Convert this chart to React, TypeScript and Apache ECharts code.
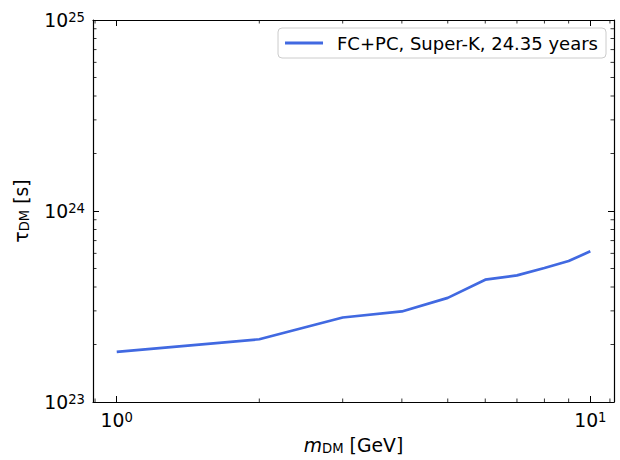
import React, { useEffect, useRef } from "react";
import * as echarts from "echarts";

const masses = [1, 2, 3, 4, 5, 6, 7, 8, 9, 10];
const tauDM = [1.83e23, 2.13e23, 2.77e23, 2.98e23, 3.51e23, 4.37e23, 4.6e23, 5.03e23, 5.47e23, 6.15e23];
const seriesName = "FC+PC, Super-K, 24.35 years";
const X_MIN = 0.891;
const X_MAX = 11.22;
const Y_MIN = 1e23;
const Y_MAX = 1e25;
const xMinorTicks = [0.9, 2, 3, 4, 5, 6, 7, 8, 9, 11];
const yMinorTicks = [2e23, 3e23, 4e23, 5e23, 6e23, 7e23, 8e23, 9e23, 2e24, 3e24, 4e24, 5e24, 6e24, 7e24, 8e24, 9e24];

const FONT = "DejaVu Sans";
const FS = 18.8;
const LINE_COLOR = "#4169e1";

function powLabel(v: number) {
  const l = Math.log10(v);
  const e = Math.round(l);
  if (Math.abs(l - e) > 1e-6) return "";
  return `{b|10}{s|${e}}`;
}

const labelRich = {
  b: { fontFamily: FONT, fontSize: FS, color: "#000" },
  s: { fontFamily: FONT, fontSize: 13.2, color: "#000", verticalAlign: "top", lineHeight: 13 },
};

export default function App() {
  const ref = useRef<HTMLDivElement>(null);
  useEffect(() => {
    const chart = echarts.init(ref.current!, null, { renderer: "svg" });
    const tickLine = { lineStyle: { color: "#000", width: 1 } };
    const axisLine = { show: true, lineStyle: { color: "#000", width: 1.2 } };
    const minorTickLen = 3.5;
    chart.setOption({
      animation: false,
      backgroundColor: "#fff",
      grid: { left: 93, right: 6, top: 20, bottom: 56, containLabel: false },
      legend: {
        data: [{ name: seriesName, icon: "rect" }],
        right: 14,
        top: 28,
        orient: "vertical",
        itemWidth: 38,
        itemHeight: 2.8,
        padding: [6, 8, 6, 7],
        borderColor: "#cccccc",
        borderWidth: 1,
        borderRadius: 4,
        backgroundColor: "#fff",
        itemStyle: { color: LINE_COLOR, borderWidth: 0 },
        textStyle: { fontFamily: FONT, fontSize: 18, color: "#000", padding: [0, 0, 0, 9], lineHeight: 18 },
      },
      xAxis: [
        {
          type: "log",
          logBase: 10,
          min: X_MIN,
          max: X_MAX,
          position: "bottom",
          axisLine,
          axisTick: { show: true, inside: true, length: 6, ...tickLine },
          axisLabel: { show: true, margin: 9, formatter: powLabel, rich: labelRich, showMinLabel: false, showMaxLabel: false },
          splitLine: { show: false },
          name: "{i|m}{sub|DM}{n| [GeV]}",
          nameLocation: "middle",
          nameGap: 34,
          nameTextStyle: {
            rich: {
              i: { fontFamily: FONT, fontSize: FS, fontStyle: "italic", color: "#000" },
              sub: { fontFamily: FONT, fontSize: 13.2, color: "#000", verticalAlign: "bottom" },
              n: { fontFamily: FONT, fontSize: FS, color: "#000" },
            },
          },
        },
        {
          type: "log",
          logBase: 10,
          min: X_MIN,
          max: X_MAX,
          position: "top",
          axisLine,
          axisTick: { show: true, inside: true, length: 6, ...tickLine },
          axisLabel: { show: false },
          splitLine: { show: false },
        },
      ],
      yAxis: [
        {
          type: "log",
          logBase: 10,
          min: Y_MIN,
          max: Y_MAX,
          position: "left",
          axisLine,
          axisTick: { show: true, inside: true, length: 6, ...tickLine },
          axisLabel: { show: true, margin: 8, formatter: powLabel, rich: labelRich },
          splitLine: { show: false },
          name: "{g|τ}{sub|DM}{n| [s]}",
          nameLocation: "middle",
          nameRotate: 90,
          nameGap: 62,
          nameTextStyle: {
            rich: {
              g: { fontFamily: FONT, fontSize: FS, color: "#000" },
              sub: { fontFamily: FONT, fontSize: 13.2, color: "#000", verticalAlign: "bottom" },
              n: { fontFamily: FONT, fontSize: FS, color: "#000" },
            },
          },
        },
        {
          type: "log",
          logBase: 10,
          min: Y_MIN,
          max: Y_MAX,
          position: "right",
          axisLine,
          axisTick: { show: true, inside: true, length: 6, ...tickLine },
          axisLabel: { show: false },
          splitLine: { show: false },
        },
      ],
      series: [
        {
          name: seriesName,
          type: "line",
          xAxisIndex: 0,
          yAxisIndex: 0,
          data: masses.map((m, i) => [m, tauDM[i]]),
          symbol: "none",
          showSymbol: false,
          lineStyle: { color: LINE_COLOR, width: 2.7 },
          itemStyle: { color: LINE_COLOR },
        },
        {
          name: "xMinor",
          type: "custom",
          xAxisIndex: 0,
          yAxisIndex: 0,
          silent: true,
          clip: false,
          data: xMinorTicks.map((v) => [v, Y_MIN]),
          renderItem: (params: any, api: any) => {
            const v = api.value(0);
            const b = api.coord([v, Y_MIN]);
            const t = api.coord([v, Y_MAX]);
            return {
              type: "group",
              children: [
                { type: "line", shape: { x1: b[0], y1: b[1], x2: b[0], y2: b[1] - minorTickLen }, style: { stroke: "#000", lineWidth: 0.8 } },
                { type: "line", shape: { x1: t[0], y1: t[1], x2: t[0], y2: t[1] + minorTickLen }, style: { stroke: "#000", lineWidth: 0.8 } },
              ],
            };
          },
        },
        {
          name: "yMinor",
          type: "custom",
          xAxisIndex: 0,
          yAxisIndex: 0,
          silent: true,
          clip: false,
          data: yMinorTicks.map((v) => [X_MIN, v]),
          renderItem: (params: any, api: any) => {
            const v = api.value(1);
            const l = api.coord([X_MIN, v]);
            const r = api.coord([X_MAX, v]);
            return {
              type: "group",
              children: [
                { type: "line", shape: { x1: l[0], y1: l[1], x2: l[0] + minorTickLen, y2: l[1] }, style: { stroke: "#000", lineWidth: 0.8 } },
                { type: "line", shape: { x1: r[0], y1: r[1], x2: r[0] - minorTickLen, y2: r[1] }, style: { stroke: "#000", lineWidth: 0.8 } },
              ],
            };
          },
        },
      ],
    });
    return () => chart.dispose();
  }, []);
  return <div ref={ref} style={{ position: "fixed", left: 0, top: 0, width: 620, height: 460 }} />;
}
